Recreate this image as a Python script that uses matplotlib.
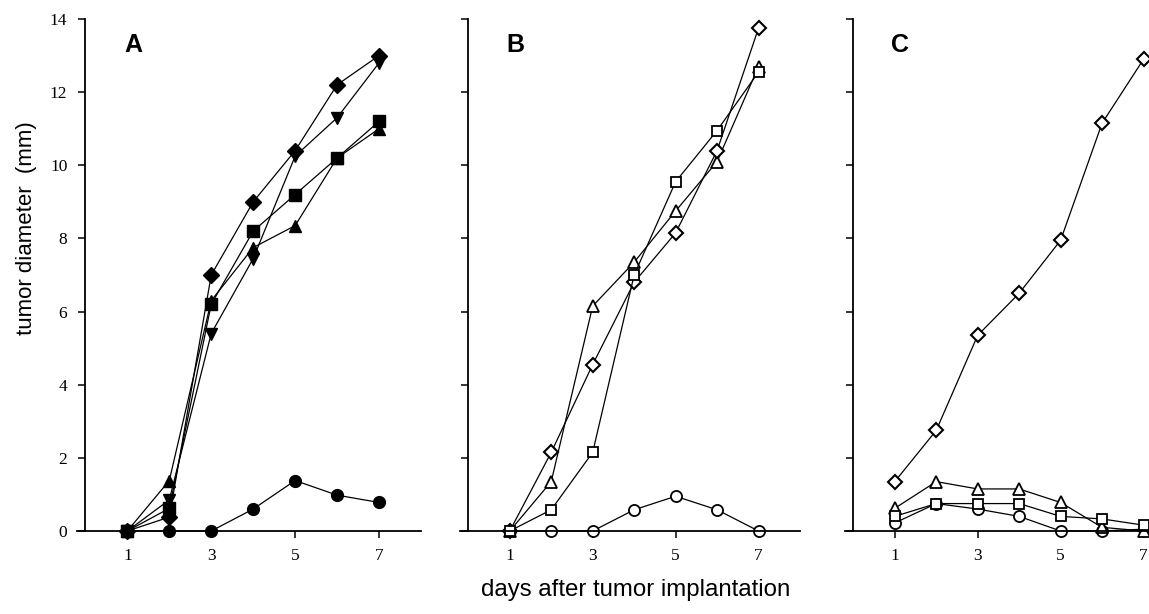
import matplotlib
matplotlib.use('Agg')
import matplotlib.pyplot as plt

# days after implantation
days = [1, 2, 3, 4, 5, 6, 7]

# panel A (filled markers)
a_diamond = [0, 0.38, 7.0, 9.0, 10.4, 12.2, 13.0]
a_vtri = [0, 0.85, 5.4, 7.45, 10.25, 11.3, 12.8]
a_square = [0, 0.62, 6.2, 8.2, 9.2, 10.2, 11.2]
a_tri = [0, 1.38, 6.3, 7.75, 8.35, 10.2, 11.0]
a_circle = [0, 0, 0, 0.6, 1.38, 0.98, 0.78]

# panel B (open markers)
b_tri = [0, 1.35, 6.15, 7.35, 8.75, 10.1, 12.7]
b_diamond = [0, 2.15, 4.55, 6.8, 8.15, 10.4, 13.75]
b_square = [0, 0.58, 2.15, 7.0, 9.55, 10.95, 12.55]
b_circle = [0, 0, 0, 0.58, 0.95, 0.58, 0]

# panel C (open markers)
c_diamond = [1.35, 2.75, 5.35, 6.5, 7.95, 11.15, 12.9]
c_tri = [0.62, 1.35, 1.15, 1.15, 0.78, 0.1, 0]
c_square = [0.4, 0.75, 0.75, 0.75, 0.4, 0.33, 0.16]
c_circle = [0.22, 0.75, 0.6, 0.4, 0, 0, 0.05]

xticks = [1, 3, 5, 7]
yticks = [0, 2, 4, 6, 8, 10, 12, 14]
panel_names = ['A', 'B', 'C']

serif = 'Liberation Serif'
sans = 'Liberation Sans'

fig = plt.figure(figsize=(11.49, 6.14), dpi=100)

W = 1149.0
H = 614.0
bottom = (H - 531) / H
height = 512 / H
lefts = [77, 460, 845]
widths = [344, 340, 340]

axes = []
for i in range(3):
    ax = fig.add_axes([lefts[i] / W, bottom, widths[i] / W, height])
    ax.set_xlim(-0.2, 8)
    ax.set_ylim(0, 14)
    for s in ['top', 'right']:
        ax.spines[s].set_visible(False)
    ax.spines['left'].set_position(('data', 0))
    ax.spines['left'].set_linewidth(1.3)
    ax.spines['bottom'].set_linewidth(1.3)
    ax.set_xticks(xticks)
    ax.set_yticks(yticks)
    ax.tick_params(axis='both', direction='out', length=5, width=1.1,
                   labelsize=12.5)
    ax.tick_params(axis='y', pad=8)
    ax.tick_params(axis='x', pad=7)
    for lab in ax.get_xticklabels() + ax.get_yticklabels():
        lab.set_fontfamily(serif)
    if i > 0:
        ax.set_yticklabels([])
    ax.text(0.92, 13.3, panel_names[i], fontsize=18, fontweight='bold',
            family=sans, va='center', ha='left')
    axes.append(ax)

lw = 0.9
kw = dict(color='black', lw=lw, clip_on=False, mec='black')

ax = axes[0]
ax.plot(days, a_circle, marker='o', ms=8.5, mfc='black', **kw)
ax.plot(days, a_tri, marker='^', ms=8.5, mfc='black', **kw)
ax.plot(days, a_square, marker='s', ms=8.5, mfc='black', **kw)
ax.plot(days, a_vtri, marker='v', ms=8.5, mfc='black', **kw)
ax.plot(days, a_diamond, marker='D', ms=8.5, mfc='black', **kw)

ax = axes[1]
ax.plot(days, b_circle, marker='o', ms=8, mfc='white', mew=1.3, **kw)
ax.plot(days, b_tri, marker='^', ms=8, mfc='white', mew=1.3, **kw)
ax.plot(days, b_diamond, marker='D', ms=7.5, mfc='white', mew=1.5, **kw)
ax.plot(days, b_square, marker='s', ms=7.5, mfc='white', mew=1.3, **kw)

ax = axes[2]
ax.plot(days, c_circle, marker='o', ms=8, mfc='white', mew=1.3, **kw)
ax.plot(days, c_tri, marker='^', ms=8, mfc='white', mew=1.3, **kw)
ax.plot(days, c_square, marker='s', ms=7.5, mfc='white', mew=1.3, **kw)
ax.plot(days, c_diamond, marker='D', ms=7.5, mfc='white', mew=1.5, **kw)

fig.text(27 / W, 1 - 228 / H, 'tumor diameter  (mm)', rotation=90,
         family=sans, fontsize=16, ha='center', va='center')
fig.text(636 / W, 1 - 590 / H, 'days after tumor implantation',
         family=sans, fontsize=17.3, ha='center', va='center')

fig.savefig('out.png', dpi=100)
